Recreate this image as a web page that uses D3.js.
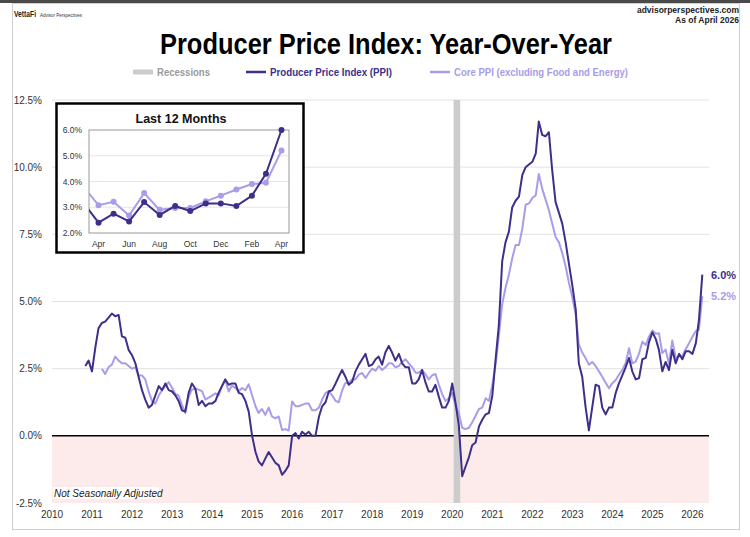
<!DOCTYPE html>
<html>
<head>
<meta charset="utf-8">
<script src="https://cdn.jsdelivr.net/npm/d3@7"></script>
<style>
  body { margin: 0; background: #fff; }
  text { font-family: "Liberation Sans", Arial, sans-serif; }
</style>
</head>
<body>
<svg id="chart" width="750" height="537"></svg>
<script>
// Monthly year-over-year % change, PPI starts Nov 2010
const ppiStart = "2010-11";
const ppiValues = [
  2.6, 2.8,
  2.4, 3.3, 4.0, 4.2, 4.25, 4.4, 4.55, 4.45, 4.5, 3.7, 3.65, 3.2,
  3.0, 2.7, 2.2, 1.7, 1.35, 1.05, 1.15, 1.5, 1.85, 1.7, 1.95, 1.7,
  1.65, 1.5, 1.3, 0.95, 0.9, 1.6, 1.95, 1.75, 1.15, 1.3, 1.1, 1.2,
  1.2, 1.3, 1.6, 1.85, 2.1, 1.9, 1.95, 1.95, 1.6, 1.55, 1.3, 0.9,
  0.0, -0.6, -0.95, -1.1, -0.85, -0.6, -0.8, -1.0, -1.1, -1.45, -1.3, -1.1,
  0.0, 0.1, -0.1, 0.15, 0.05, 0.15, 0.0, 0.0, 0.7, 1.1, 1.25, 1.65,
  1.7, 1.95, 2.2, 2.45, 2.2, 1.9, 2.0, 2.4, 2.65, 2.85, 3.05, 2.6,
  2.65, 2.85, 2.95, 2.65, 3.1, 3.35, 3.1, 2.8, 3.05, 2.7, 2.55, 2.55,
  1.95, 1.95, 2.1, 2.45, 2.0, 1.65, 1.65, 1.9, 1.45, 1.05, 1.05, 1.3,
  1.95, 1.2, 0.4, -1.5, -1.15, -0.8, -0.35, -0.25, 0.35, 0.6, 0.8, 0.85,
  1.5, 2.9, 4.1, 6.5, 7.2, 7.6, 8.5, 8.75, 8.9, 9.7, 10.0, 10.1,
  10.2, 10.5, 11.7, 11.2, 11.15, 11.3, 9.9, 8.7, 8.3, 7.9, 7.2, 6.4,
  5.6, 4.7, 2.7, 2.2, 1.1, 0.2, 1.05, 1.9, 1.85, 1.05, 0.8, 1.05,
  1.05, 1.6, 1.95, 2.25, 2.55, 2.9, 2.4, 2.1, 2.15, 2.85, 2.9, 3.5,
  3.85, 3.6, 3.2, 2.4, 2.75, 2.45, 3.2, 2.7, 3.05, 2.85, 3.15, 3.15,
  3.05, 3.45, 4.3, 6.0
];

// Core PPI (excluding food and energy), starts Apr 2011
const coreStart = "2011-04";
const coreValues = [
  2.5, 2.3, 2.55, 2.65, 2.95, 2.8, 2.7, 2.7, 2.6,
  2.5, 2.55, 2.25, 2.25, 2.1, 1.65, 1.3, 1.2, 1.5, 1.7, 1.85, 2.0,
  1.78, 1.55, 1.5, 1.15, 0.85, 1.45, 1.72, 1.75, 1.72, 1.66, 1.35, 1.42,
  1.5, 1.58, 1.5, 1.85, 2.08, 1.65, 1.87, 1.78, 1.66, 1.78, 1.7, 1.92,
  1.5, 1.1, 0.85, 1.0, 0.78, 1.05, 0.72, 0.65, 0.72, 0.22, 0.25, 0.2,
  1.28, 1.1, 1.1, 1.15, 1.2, 1.2, 0.95, 0.95, 1.05, 1.35, 1.6, 1.66,
  1.5, 1.3, 1.25, 1.68, 1.97, 1.97, 2.1, 2.1, 2.28, 2.34, 2.15, 2.34,
  2.5, 2.42, 2.6, 2.45, 2.55, 2.7, 2.7, 2.55, 2.6, 2.75, 2.85, 2.7,
  2.55, 2.35, 2.35, 2.45, 2.3, 2.1, 2.25, 2.3, 1.9, 1.55, 1.3, 1.4,
  1.6, 1.1, 0.85, 0.3, 0.25, 0.3, 0.5, 0.75, 1.0, 1.05, 1.4, 1.3,
  1.9, 2.7, 3.7, 4.9, 5.5, 6.0, 6.6, 7.1, 7.1, 7.7, 8.6, 8.65,
  8.85, 8.95, 9.75, 9.2, 8.8, 8.4, 7.9, 7.4, 7.2, 6.8, 6.3, 5.7,
  5.15, 4.5, 3.4, 3.1, 2.9, 2.65, 2.75, 2.6, 2.4, 2.2, 1.98, 1.77,
  1.96, 2.08, 2.27, 2.45, 2.7, 3.26, 2.7, 2.76, 3.07, 3.5, 3.38, 3.7,
  3.92, 3.8, 3.82, 3.08, 3.21, 2.68, 3.55, 2.9, 2.97, 2.97, 3.23, 3.45,
  3.69, 3.9, 3.95, 5.2
];

const recessions = [["2020-02", "2020-04"]];
const yTicks = [-2.5, 0, 2.5, 5, 7.5, 10, 12.5];
const yearTicks = d3.range(2010, 2027);
const insetTicks = [2, 3, 4, 5, 6];

const darkColor = "#3d2f8a";
const lightColor = "#a99ce9";

const parseMonth = d3.timeParse("%Y-%m");

function toSeries(start, values) {
  const s = parseMonth(start);
  return values.map((v, i) => ({ date: d3.timeMonth.offset(s, i), value: v }));
}

const ppi = toSeries(ppiStart, ppiValues);
const core = toSeries(coreStart, coreValues);

const svg = d3.select("#chart");

// Frame
svg.append("rect").attr("width", 750).attr("height", 537).attr("fill", "#fff");
svg.append("rect").attr("x", 0).attr("y", 0).attr("width", 750).attr("height", 3).attr("fill", "#4a4a4a");
svg.append("rect")
  .attr("x", 12.5).attr("y", 3.5).attr("width", 727).attr("height", 526)
  .attr("fill", "none").attr("stroke", "#cfcfcf");

// Header
svg.append("text").attr("x", 14).attr("y", 17)
  .attr("font-size", 9.5).attr("font-weight", "bold").attr("fill", "#222")
  .attr("textLength", 22).attr("lengthAdjust", "spacingAndGlyphs").text("VettaFi");
svg.append("text").attr("x", 40).attr("y", 16.5)
  .attr("font-size", 6).attr("fill", "#333")
  .attr("textLength", 42).attr("lengthAdjust", "spacingAndGlyphs").text("Advisor Perspectives");
svg.append("text").attr("x", 739).attr("y", 13).attr("text-anchor", "end")
  .attr("font-size", 8.5).attr("font-weight", "bold").attr("fill", "#222").text("advisorperspectives.com");
svg.append("text").attr("x", 739).attr("y", 23).attr("text-anchor", "end")
  .attr("font-size", 8.5).attr("font-weight", "bold").attr("fill", "#222").text("As of April 2026");

// Title
svg.append("text").attr("x", 160).attr("y", 54)
  .attr("font-size", 30).attr("font-weight", "bold").attr("fill", "#000")
  .attr("textLength", 452).attr("lengthAdjust", "spacingAndGlyphs")
  .text("Producer Price Index: Year-Over-Year");

// Legend
const legendItems = [
  { label: "Recessions", color: "#cccccc", text: "#9a9a9a", x: 133, w: 53, h: 5 },
  { label: "Producer Price Index (PPI)", color: darkColor, text: darkColor, x: 246, w: 122, h: 2.5 },
  { label: "Core PPI (excluding Food and Energy)", color: lightColor, text: lightColor, x: 430, w: 174, h: 2.5 }
];
const legend = svg.append("g").attr("transform", "translate(0,72)");
legendItems.forEach(d => {
  legend.append("rect").attr("x", d.x).attr("y", -d.h / 2).attr("width", 20).attr("height", d.h).attr("fill", d.color);
  legend.append("text").attr("x", d.x + 24).attr("y", 4)
    .attr("font-size", 11).attr("font-weight", "bold").attr("fill", d.text)
    .attr("textLength", d.w).attr("lengthAdjust", "spacingAndGlyphs")
    .text(d.label);
});

// Scales
const x = d3.scaleTime()
  .domain([new Date(2010, 0, 1), new Date(2026, 5, 1)])
  .range([52, 709]);
const y = d3.scaleLinear().domain([-2.5, 12.5]).range([503, 100]);

const plot = svg.append("g");

// Negative zone
plot.append("rect")
  .attr("x", x.range()[0]).attr("y", y(0))
  .attr("width", x.range()[1] - x.range()[0]).attr("height", y(-2.5) - y(0))
  .attr("fill", "#fcebea");

// Gridlines
plot.selectAll(".grid").data(yTicks.filter(d => d !== 0 && d !== -2.5)).join("line")
  .attr("x1", x.range()[0]).attr("x2", x.range()[1])
  .attr("y1", d => y(d)).attr("y2", d => y(d))
  .attr("stroke", "#e2e2e2").attr("stroke-width", 1);

// Zero line
plot.append("line")
  .attr("x1", x.range()[0]).attr("x2", x.range()[1])
  .attr("y1", y(0)).attr("y2", y(0))
  .attr("stroke", "#000").attr("stroke-width", 1.5);

// Recession bars
plot.selectAll(".rec").data(recessions).join("rect")
  .attr("x", d => x(parseMonth(d[0])) - 2)
  .attr("width", d => x(parseMonth(d[1])) - x(parseMonth(d[0])))
  .attr("y", y(12.5)).attr("height", y(-2.5) - y(12.5))
  .attr("fill", "#cccccc");

// Axis labels
svg.append("g").selectAll("text").data(yTicks).join("text")
  .attr("x", 42).attr("y", d => y(d) + 3.5)
  .attr("text-anchor", "end").attr("font-size", 10).attr("fill", "#333")
  .text(d => d.toFixed(1) + "%");

svg.append("g").selectAll("text").data(yearTicks).join("text")
  .attr("x", d => x(new Date(d, 0, 1))).attr("y", 518)
  .attr("text-anchor", "middle").attr("font-size", 10).attr("fill", "#333")
  .text(d => d);

// Lines
const line = d3.line().x(d => x(d.date)).y(d => y(d.value));

plot.append("path").datum(core)
  .attr("fill", "none").attr("stroke", lightColor).attr("stroke-width", 2)
  .attr("stroke-linejoin", "round").attr("d", line);
plot.append("path").datum(ppi)
  .attr("fill", "none").attr("stroke", darkColor).attr("stroke-width", 2)
  .attr("stroke-linejoin", "round").attr("d", line);

// End labels
const lastPpi = ppi[ppi.length - 1];
const lastCore = core[core.length - 1];
svg.append("text").attr("x", 711).attr("y", y(lastPpi.value) + 4)
  .attr("font-size", 11).attr("font-weight", "bold").attr("fill", darkColor)
  .text(lastPpi.value.toFixed(1) + "%");
svg.append("text").attr("x", 711).attr("y", y(lastCore.value) + 4)
  .attr("font-size", 11).attr("font-weight", "bold").attr("fill", lightColor)
  .text(lastCore.value.toFixed(1) + "%");

// Note
svg.append("rect").attr("x", 53).attr("y", 487).attr("width", 106).attr("height", 12).attr("fill", "#fff");
svg.append("text").attr("x", 54).attr("y", 497)
  .attr("font-size", 10).attr("font-style", "italic").attr("fill", "#222")
  .text("Not Seasonally Adjusted");

// Inset: last 12 months
const inset = svg.append("g");
inset.append("rect").attr("x", 56.5).attr("y", 103.5).attr("width", 247).attr("height", 149)
  .attr("fill", "#fff").attr("stroke", "#000").attr("stroke-width", 2.5);
inset.append("text").attr("x", 181).attr("y", 123).attr("text-anchor", "middle")
  .attr("font-size", 12.5).attr("font-weight", "bold").attr("fill", "#111")
  .text("Last 12 Months");

const ix = d3.scaleTime()
  .domain([new Date(2025, 2, 13), new Date(2026, 3, 16)])
  .range([89, 289]);
const iy = d3.scaleLinear().domain([2, 6]).range([233, 130]);

inset.selectAll(".igrid").data(insetTicks.slice(1, -1)).join("line")
  .attr("x1", 89).attr("x2", 289).attr("y1", d => iy(d)).attr("y2", d => iy(d))
  .attr("stroke", "#e6e6e6");
inset.append("rect").attr("x", 89).attr("y", 130).attr("width", 200).attr("height", 103)
  .attr("fill", "none").attr("stroke", "#999");

inset.selectAll(".ylab").data(insetTicks).join("text")
  .attr("x", 82).attr("y", d => iy(d) + 3)
  .attr("text-anchor", "end").attr("font-size", 8.5).attr("fill", "#333")
  .text(d => d.toFixed(1) + "%");

const insetMonths = d3.timeMonth.range(new Date(2025, 3, 1), new Date(2026, 4, 1), 2);
inset.selectAll(".xlab").data(insetMonths).join("text")
  .attr("x", d => ix(d)).attr("y", 247)
  .attr("text-anchor", "middle").attr("font-size", 8.5).attr("fill", "#333")
  .text(d3.timeFormat("%b"));

svg.append("clipPath").attr("id", "inset-clip")
  .append("rect").attr("x", 89).attr("y", 126).attr("width", 200).attr("height", 110);

const iline = d3.line().x(d => ix(d.date)).y(d => iy(d.value));
const firstInset = new Date(2025, 3, 1);
[[core, lightColor], [ppi, darkColor]].forEach(([series, color]) => {
  const recent = series.slice(-14);
  const g = inset.append("g").attr("clip-path", "url(#inset-clip)");
  g.append("path").datum(recent)
    .attr("fill", "none").attr("stroke", color).attr("stroke-width", 2).attr("d", iline);
  inset.append("g").selectAll("circle").data(recent.filter(d => d.date >= firstInset)).join("circle")
    .attr("cx", d => ix(d.date)).attr("cy", d => iy(d.value)).attr("r", 3)
    .attr("fill", color);
});
</script>
</body>
</html>
